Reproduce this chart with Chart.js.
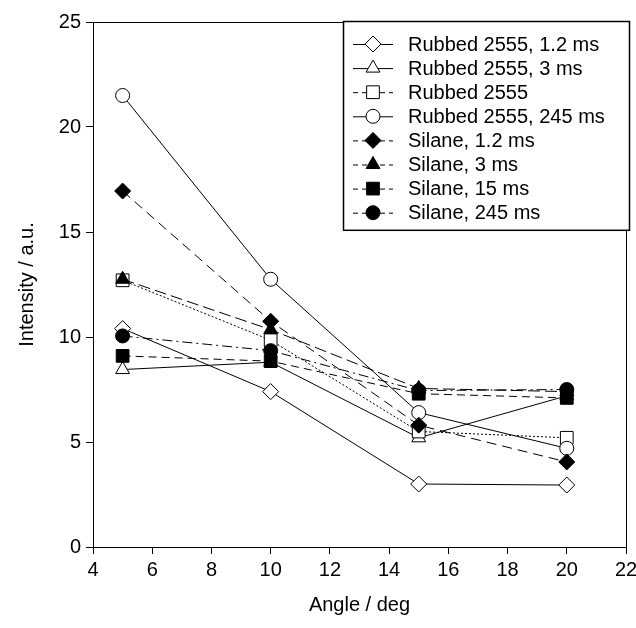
<!DOCTYPE html>
<html>
<head>
<meta charset="utf-8">
<script src="https://cdn.jsdelivr.net/npm/chart.js@4/dist/chart.umd.min.js"></script>
<style>
  html, body { margin: 0; padding: 0; background: #fff; }
  #wrap { width: 636px; height: 628px; }
</style>
</head>
<body>
<div id="wrap"><canvas id="chart" width="636" height="628"></canvas></div>
<script>
// Data
const angles = [5, 10, 15, 20];
const seriesNames = [
    'Rubbed 2555, 1.2 ms',
    'Rubbed 2555, 3 ms',
    'Rubbed 2555',
    'Rubbed 2555, 245 ms',
    'Silane, 1.2 ms',
    'Silane, 3 ms',
    'Silane, 15 ms',
    'Silane, 245 ms'
];
const rubbed12 = [10.4, 7.4, 3.0, 2.95];
const rubbed3 = [8.45, 8.8, 5.2, 7.2];
const rubbedPlain = [12.7, 9.85, 5.5, 5.2];
const rubbed245 = [21.5, 12.75, 6.4, 4.7];
const silane12 = [16.95, 10.75, 5.8, 4.05];
const silane3 = [12.75, 10.35, 7.55, 7.4];
const silane15 = [9.1, 8.85, 7.3, 7.1];
const silane245 = [10.05, 9.35, 7.45, 7.5];
const xTicks = [4, 6, 8, 10, 12, 14, 16, 18, 20, 22];
const yTicks = [0, 5, 10, 15, 20, 25];

const FONT = '"Liberation Sans", Arial, sans-serif';

// Marker / line style per series
const styles = [
    { point: 'rectRot', radius: 8, fill: '#fff', dash: [] },
    { point: 'triangle', radius: 8, fill: '#fff', dash: [] },
    { point: 'rect', radius: 9, fill: '#fff', dash: [2, 2] },
    { point: 'circle', radius: 7, fill: '#fff', dash: [] },
    { point: 'rectRot', radius: 8, fill: '#000', dash: [10, 6] },
    { point: 'triangle', radius: 8, fill: '#000', dash: [12, 5] },
    { point: 'rect', radius: 9, fill: '#000', dash: [8, 5] },
    { point: 'circle', radius: 7, fill: '#000', dash: [10, 4, 2, 4] }
];
const seriesValues = [rubbed12, rubbed3, rubbedPlain, rubbed245, silane12, silane3, silane15, silane245];

const datasets = seriesValues.map((vals, i) => ({
    label: seriesNames[i],
    data: vals.map((v, j) => ({ x: angles[j], y: v })),
    order: seriesValues.length - i,   // later series on top
    borderColor: '#000',
    borderWidth: 1,
    borderDash: styles[i].dash,
    backgroundColor: styles[i].fill,
    pointStyle: styles[i].point,
    pointRadius: styles[i].radius,
    pointHoverRadius: styles[i].radius,
    pointBorderColor: '#000',
    pointBackgroundColor: styles[i].fill,
    pointBorderWidth: 1,
    fill: false,
    tension: 0
}));

// Frame round the plot area
const framePlugin = {
    id: 'frame',
    afterDraw(chart) {
        const { ctx, chartArea: a } = chart;
        ctx.save();
        ctx.strokeStyle = '#000';
        ctx.lineWidth = 1;
        ctx.strokeRect(a.left + 0.5, a.top + 0.5, a.right - a.left, a.bottom - a.top);
        ctx.restore();
    }
};

// Legend box inside the top right corner
const legendPlugin = {
    id: 'insideLegend',
    afterDraw(chart) {
        const { ctx, chartArea: a } = chart;
        const boxLeft = 343, boxTop = a.top - 1, boxRight = a.right + 3, rowH = 24.1;
        const boxBottom = boxTop + 22 + rowH * seriesNames.length - 6;
        ctx.save();
        ctx.fillStyle = '#fff';
        ctx.fillRect(boxLeft, boxTop, boxRight - boxLeft, boxBottom - boxTop);
        ctx.strokeStyle = '#000';
        ctx.lineWidth = 1.5;
        ctx.strokeRect(boxLeft + 0.5, boxTop + 0.5, boxRight - boxLeft, boxBottom - boxTop);
        seriesNames.forEach((name, i) => {
            const y = boxTop + 23 + rowH * i;
            const st = styles[i];
            ctx.lineWidth = 1;
            ctx.strokeStyle = '#000';
            ctx.setLineDash(st.dash.length ? [5, 4] : []);
            ctx.beginPath();
            ctx.moveTo(353, y + 0.5);
            ctx.lineTo(393, y + 0.5);
            ctx.stroke();
            ctx.setLineDash([]);
            ctx.fillStyle = st.fill;
            Chart.helpers.drawPoint(ctx, {
                pointStyle: st.point,
                radius: st.radius,
                rotation: 0,
                borderWidth: 1
            }, 373, y);
            ctx.fillStyle = '#000';
            ctx.font = '20px ' + FONT;
            ctx.textBaseline = 'middle';
            ctx.textAlign = 'left';
            ctx.fillText(name, 408, y + 1);
        });
        ctx.restore();
    }
};

new Chart(document.getElementById('chart'), {
    type: 'line',
    data: { datasets },
    plugins: [framePlugin, legendPlugin],
    options: {
        responsive: false,
        animation: false,
        devicePixelRatio: 1,
        layout: { padding: { top: 22, right: 9, left: 0, bottom: 0 } },
        plugins: {
            legend: { display: false },
            tooltip: { enabled: false }
        },
        scales: {
            x: {
                type: 'linear',
                min: 4,
                max: 22,
                afterBuildTicks: (axis) => { axis.ticks = xTicks.map(v => ({ value: v })); },
                afterFit: (axis) => {
                    axis.height = 81;
                    axis.paddingLeft = 0;
                    axis.paddingRight = 0;
                },
                grid: { drawOnChartArea: false, drawTicks: true, tickLength: 7, color: '#000' },
                border: { color: '#000', width: 1 },
                ticks: { color: '#000', font: { family: FONT, size: 20 }, padding: 4, maxRotation: 0 },
                title: {
                    display: true,
                    text: 'Angle / deg',
                    color: '#000',
                    font: { family: FONT, size: 20 },
                    padding: { top: 8, bottom: 11 }
                }
            },
            y: {
                type: 'linear',
                min: 0,
                max: 25,
                afterBuildTicks: (axis) => { axis.ticks = yTicks.map(v => ({ value: v })); },
                afterFit: (axis) => {
                    axis.width = 93;
                    axis.paddingTop = 0;
                    axis.paddingBottom = 0;
                },
                grid: { drawOnChartArea: false, drawTicks: true, tickLength: 7, color: '#000' },
                border: { color: '#000', width: 1 },
                ticks: { color: '#000', font: { family: FONT, size: 20 }, padding: 5 },
                title: {
                    display: true,
                    text: 'Intensity / a.u.',
                    color: '#000',
                    font: { family: FONT, size: 20 },
                    padding: { top: 15, bottom: 6 }
                }
            }
        }
    }
});
</script>
</body>
</html>
